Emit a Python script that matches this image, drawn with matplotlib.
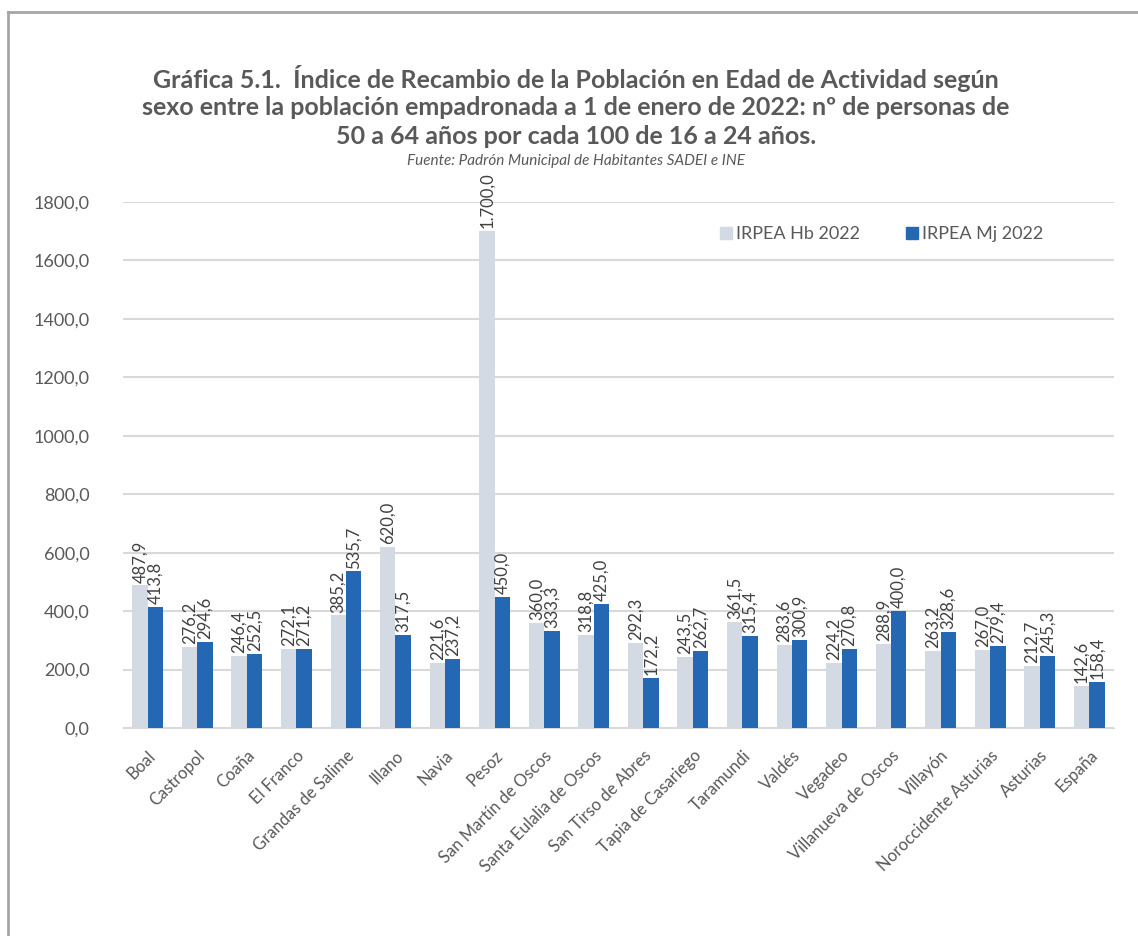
import matplotlib
matplotlib.use("Agg")
import matplotlib.pyplot as plt
from matplotlib.lines import Line2D
import numpy as np

categories = ["Boal", "Castropol", "Coaña", "El Franco", "Grandas de Salime", "Illano",
              "Navia", "Pesoz", "San Martín de Oscos", "Santa Eulalia de Oscos",
              "San Tirso de Abres", "Tapia de Casariego", "Taramundi", "Valdés", "Vegadeo",
              "Villanueva de Oscos", "Villayón", "Noroccidente Asturias", "Asturias", "España"]
hb_2022 = [487.9, 276.2, 246.4, 272.1, 385.2, 620.0, 221.6, 1700.0, 360.0, 318.8,
           292.3, 243.5, 361.5, 283.6, 224.2, 288.9, 263.2, 267.0, 212.7, 142.6]
mj_2022 = [413.8, 294.6, 252.5, 271.2, 535.7, 317.5, 237.2, 450.0, 333.3, 425.0,
           172.2, 262.7, 315.4, 300.9, 270.8, 400.0, 328.6, 279.4, 245.3, 158.4]
series_names = ["IRPEA Hb 2022", "IRPEA Mj 2022"]
yticks = [0, 200, 400, 600, 800, 1000, 1200, 1400, 1600, 1800]

c_hb = "#D3DAE4"
c_mj = "#2468B4"
txt = "#595959"
FONT = "Lato"
plt.rcParams["font.family"] = [FONT, "DejaVu Sans"]

def fmt_label(v):
    s = f"{v:,.1f}"
    return s.replace(",", "X").replace(".", ",").replace("X", ".")

def fmt_tick(v):
    return f"{v:.1f}".replace(".", ",")

fig = plt.figure(figsize=(11.38, 9.36), dpi=100)
ax = fig.add_axes([0.108, 0.2222, 0.871, 0.562])

x = np.arange(len(categories))
w = 0.31
b1 = ax.bar(x - w / 2, hb_2022, w, color=c_hb, zorder=2)
b2 = ax.bar(x + w / 2, mj_2022, w, color=c_mj, zorder=3)

for bars, vals in ((b1, hb_2022), (b2, mj_2022)):
    for rect, v in zip(bars, vals):
        ax.text(rect.get_x() + rect.get_width() / 2, v + 10, fmt_label(v), rotation=90,
                ha="center", va="bottom", fontsize=12, color="#404040", zorder=4)

ax.set_ylim(0, 1800)
ax.set_xlim(-0.5, len(categories) - 0.5)
ax.set_yticks(yticks)
ax.set_yticklabels([fmt_tick(t) for t in yticks], fontsize=13, color=txt)
ax.yaxis.grid(True, color="#D9D9D9", linewidth=1.5, zorder=0)
ax.set_axisbelow(True)
for s in ["top", "right", "left"]:
    ax.spines[s].set_visible(False)
ax.spines["bottom"].set_color("#D9D9D9")
ax.tick_params(axis="y", length=0, pad=24)
ax.tick_params(axis="x", length=0, pad=14)
ax.set_xticks(x)
ax.set_xticklabels(categories, rotation=45, ha="right", rotation_mode="anchor",
                   fontsize=12, color=txt)

handles = [Line2D([], [], marker="s", linestyle="", color=c_hb, markersize=8),
           Line2D([], [], marker="s", linestyle="", color=c_mj, markersize=8)]
leg = ax.legend(handles, series_names, loc="upper right", bbox_to_anchor=(0.945, 0.985),
                ncol=2, frameon=False, fontsize=13, handletextpad=0.05, columnspacing=2.4,
                handlelength=1.0)
for t in leg.get_texts():
    t.set_color(txt)

title_lines = ["Gráfica 5.1.  Índice de Recambio de la Población en Edad de Actividad según",
               "sexo entre la población empadronada a 1 de enero de 2022: nº de personas de",
               "50 a 64 años por cada 100 de 16 a 24 años."]
for i, line in enumerate(title_lines):
    fig.text(0.506, 1 - (78 + 29.5 * i) / 936, line, ha="center", va="center",
             fontsize=18, fontweight="bold", color=txt)
fig.text(0.506, 1 - 161 / 936, "Fuente: Padrón Municipal de Habitantes SADEI e INE", ha="center",
         va="center", fontsize=11, style="italic", color=txt)

fig.add_artist(Line2D([0.007, 0.007], [0.0, 0.987], transform=fig.transFigure,
                      color="#A6A6A6", linewidth=2))
fig.add_artist(Line2D([0.007, 1.0], [0.987, 0.987], transform=fig.transFigure,
                      color="#A6A6A6", linewidth=2))

fig.savefig("out.png", dpi=100)
